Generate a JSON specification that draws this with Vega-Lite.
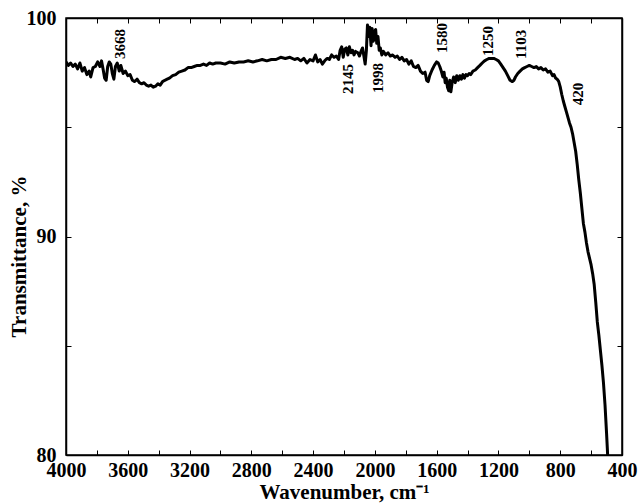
{
  "$schema": "https://vega.github.io/schema/vega-lite/v6.json",
  "autosize": "none",
  "width": 556,
  "height": 437,
  "padding": {"left": 66, "top": 18, "right": 16, "bottom": 49},
  "background": "white",
  "config": {
    "view": {"stroke": "black", "strokeWidth": 1.5},
    "font": "Liberation Serif",
    "axis": {
      "domainColor": "black",
      "domainWidth": 1.5,
      "tickColor": "black",
      "tickWidth": 1,
      "tickSize": -5,
      "grid": false,
      "labelFlush": false,
      "labelOverlap": false,
      "labelFont": "Liberation Serif",
      "labelFontWeight": "bold",
      "labelFontSize": 20,
      "labelColor": "black",
      "titleFont": "Liberation Serif",
      "titleFontWeight": "bold",
      "titleFontSize": 21,
      "titleColor": "black"
    }
  },
  "datasets": {
    "spectrum": [
      {"wn": 4000, "t": 97.99}, {"wn": 3985, "t": 97.83}, {"wn": 3970, "t": 97.94}, {"wn": 3955, "t": 97.78},
      {"wn": 3940, "t": 97.89}, {"wn": 3925, "t": 97.67}, {"wn": 3910, "t": 97.94}, {"wn": 3895, "t": 97.57},
      {"wn": 3880, "t": 97.73}, {"wn": 3865, "t": 97.41}, {"wn": 3850, "t": 97.57}, {"wn": 3840, "t": 97.3},
      {"wn": 3825, "t": 97.73}, {"wn": 3810, "t": 97.78}, {"wn": 3795, "t": 97.99}, {"wn": 3780, "t": 97.78},
      {"wn": 3770, "t": 98.04}, {"wn": 3760, "t": 97.67}, {"wn": 3750, "t": 97.25}, {"wn": 3740, "t": 97.15},
      {"wn": 3730, "t": 97.78}, {"wn": 3720, "t": 97.99}, {"wn": 3710, "t": 97.89}, {"wn": 3700, "t": 97.46},
      {"wn": 3690, "t": 97.2}, {"wn": 3680, "t": 97.78}, {"wn": 3668, "t": 97.94}, {"wn": 3655, "t": 97.57},
      {"wn": 3645, "t": 97.83}, {"wn": 3630, "t": 97.46}, {"wn": 3615, "t": 97.57}, {"wn": 3600, "t": 97.36},
      {"wn": 3585, "t": 97.41}, {"wn": 3570, "t": 97.15}, {"wn": 3555, "t": 97.09}, {"wn": 3540, "t": 97.2},
      {"wn": 3525, "t": 97.04}, {"wn": 3510, "t": 96.99}, {"wn": 3495, "t": 97.04}, {"wn": 3480, "t": 96.93},
      {"wn": 3465, "t": 96.88}, {"wn": 3450, "t": 96.93}, {"wn": 3435, "t": 96.83}, {"wn": 3420, "t": 96.88},
      {"wn": 3405, "t": 96.99}, {"wn": 3390, "t": 96.93}, {"wn": 3375, "t": 97.09}, {"wn": 3360, "t": 97.15},
      {"wn": 3345, "t": 97.2}, {"wn": 3330, "t": 97.25}, {"wn": 3310, "t": 97.36}, {"wn": 3290, "t": 97.41},
      {"wn": 3270, "t": 97.52}, {"wn": 3250, "t": 97.57}, {"wn": 3230, "t": 97.62}, {"wn": 3210, "t": 97.73},
      {"wn": 3190, "t": 97.73}, {"wn": 3170, "t": 97.78}, {"wn": 3150, "t": 97.83}, {"wn": 3130, "t": 97.83},
      {"wn": 3110, "t": 97.89}, {"wn": 3090, "t": 97.83}, {"wn": 3070, "t": 97.94}, {"wn": 3050, "t": 97.89},
      {"wn": 3030, "t": 97.94}, {"wn": 3000, "t": 97.94}, {"wn": 2970, "t": 97.89}, {"wn": 2940, "t": 97.99},
      {"wn": 2910, "t": 97.94}, {"wn": 2880, "t": 97.99}, {"wn": 2850, "t": 97.99}, {"wn": 2820, "t": 98.04},
      {"wn": 2790, "t": 97.99}, {"wn": 2760, "t": 98.04}, {"wn": 2730, "t": 98.1}, {"wn": 2700, "t": 98.04},
      {"wn": 2670, "t": 98.1}, {"wn": 2640, "t": 98.1}, {"wn": 2610, "t": 98.2}, {"wn": 2580, "t": 98.15},
      {"wn": 2550, "t": 98.2}, {"wn": 2520, "t": 98.1}, {"wn": 2500, "t": 98.15}, {"wn": 2480, "t": 98.04},
      {"wn": 2460, "t": 98.15}, {"wn": 2440, "t": 97.94}, {"wn": 2420, "t": 98.1}, {"wn": 2400, "t": 98.04},
      {"wn": 2385, "t": 98.31}, {"wn": 2370, "t": 97.99}, {"wn": 2355, "t": 98.1}, {"wn": 2340, "t": 97.89},
      {"wn": 2325, "t": 98.04}, {"wn": 2310, "t": 98.15}, {"wn": 2295, "t": 98.1}, {"wn": 2280, "t": 98.31},
      {"wn": 2265, "t": 98.2}, {"wn": 2250, "t": 98.26}, {"wn": 2235, "t": 98.1}, {"wn": 2225, "t": 98.52},
      {"wn": 2215, "t": 98.68}, {"wn": 2205, "t": 98.2}, {"wn": 2195, "t": 98.57}, {"wn": 2185, "t": 98.63},
      {"wn": 2175, "t": 98.31}, {"wn": 2165, "t": 98.68}, {"wn": 2155, "t": 98.41}, {"wn": 2145, "t": 98.52},
      {"wn": 2135, "t": 98.31}, {"wn": 2125, "t": 98.47}, {"wn": 2110, "t": 98.41}, {"wn": 2100, "t": 98.26},
      {"wn": 2090, "t": 98.47}, {"wn": 2080, "t": 98.63}, {"wn": 2070, "t": 98.2}, {"wn": 2063, "t": 97.89},
      {"wn": 2055, "t": 98.52}, {"wn": 2048, "t": 99.68}, {"wn": 2040, "t": 99.15}, {"wn": 2033, "t": 99.58},
      {"wn": 2025, "t": 98.73}, {"wn": 2018, "t": 99.52}, {"wn": 2010, "t": 98.94}, {"wn": 2003, "t": 99.37},
      {"wn": 1995, "t": 99.47}, {"wn": 1988, "t": 98.84}, {"wn": 1980, "t": 99.15}, {"wn": 1972, "t": 98.52},
      {"wn": 1965, "t": 98.63}, {"wn": 1955, "t": 98.31}, {"wn": 1945, "t": 98.47}, {"wn": 1930, "t": 98.31},
      {"wn": 1915, "t": 98.41}, {"wn": 1900, "t": 98.26}, {"wn": 1885, "t": 98.31}, {"wn": 1870, "t": 98.2},
      {"wn": 1855, "t": 98.26}, {"wn": 1840, "t": 98.1}, {"wn": 1825, "t": 98.2}, {"wn": 1810, "t": 98.04},
      {"wn": 1795, "t": 98.1}, {"wn": 1780, "t": 97.89}, {"wn": 1765, "t": 98.04}, {"wn": 1750, "t": 97.78},
      {"wn": 1735, "t": 97.73}, {"wn": 1720, "t": 97.83}, {"wn": 1705, "t": 97.57}, {"wn": 1690, "t": 97.46},
      {"wn": 1675, "t": 97.52}, {"wn": 1665, "t": 97.15}, {"wn": 1655, "t": 97.09}, {"wn": 1645, "t": 97.36},
      {"wn": 1630, "t": 97.62}, {"wn": 1615, "t": 97.83}, {"wn": 1600, "t": 97.99}, {"wn": 1590, "t": 97.94},
      {"wn": 1580, "t": 97.78}, {"wn": 1570, "t": 97.57}, {"wn": 1560, "t": 97.3}, {"wn": 1552, "t": 97.52},
      {"wn": 1545, "t": 97.04}, {"wn": 1538, "t": 97.25}, {"wn": 1530, "t": 96.83}, {"wn": 1522, "t": 96.67},
      {"wn": 1515, "t": 97.15}, {"wn": 1508, "t": 96.62}, {"wn": 1500, "t": 97.04}, {"wn": 1490, "t": 97.3},
      {"wn": 1480, "t": 97.04}, {"wn": 1470, "t": 97.36}, {"wn": 1460, "t": 97.15}, {"wn": 1450, "t": 97.36},
      {"wn": 1440, "t": 97.2}, {"wn": 1430, "t": 97.41}, {"wn": 1420, "t": 97.25}, {"wn": 1410, "t": 97.41},
      {"wn": 1400, "t": 97.36}, {"wn": 1390, "t": 97.46}, {"wn": 1380, "t": 97.41}, {"wn": 1365, "t": 97.57},
      {"wn": 1350, "t": 97.62}, {"wn": 1335, "t": 97.73}, {"wn": 1320, "t": 97.83}, {"wn": 1305, "t": 97.94},
      {"wn": 1290, "t": 98.04}, {"wn": 1275, "t": 98.1}, {"wn": 1260, "t": 98.15}, {"wn": 1245, "t": 98.15},
      {"wn": 1230, "t": 98.15}, {"wn": 1215, "t": 98.1}, {"wn": 1200, "t": 98.04}, {"wn": 1185, "t": 97.89},
      {"wn": 1170, "t": 97.73}, {"wn": 1155, "t": 97.57}, {"wn": 1140, "t": 97.36}, {"wn": 1125, "t": 97.15},
      {"wn": 1110, "t": 97.09}, {"wn": 1100, "t": 97.15}, {"wn": 1090, "t": 97.3}, {"wn": 1075, "t": 97.46},
      {"wn": 1060, "t": 97.57}, {"wn": 1045, "t": 97.67}, {"wn": 1030, "t": 97.73}, {"wn": 1015, "t": 97.78},
      {"wn": 1000, "t": 97.83}, {"wn": 985, "t": 97.78}, {"wn": 970, "t": 97.73}, {"wn": 955, "t": 97.78},
      {"wn": 940, "t": 97.67}, {"wn": 925, "t": 97.73}, {"wn": 910, "t": 97.62}, {"wn": 895, "t": 97.67},
      {"wn": 880, "t": 97.52}, {"wn": 865, "t": 97.57}, {"wn": 850, "t": 97.36}, {"wn": 840, "t": 97.41},
      {"wn": 830, "t": 97.25}, {"wn": 820, "t": 97.2}, {"wn": 810, "t": 97.1}, {"wn": 800, "t": 96.85},
      {"wn": 790, "t": 96.5}, {"wn": 780, "t": 96.2}, {"wn": 770, "t": 95.95}, {"wn": 760, "t": 95.7},
      {"wn": 750, "t": 95.45}, {"wn": 740, "t": 95.2}, {"wn": 730, "t": 95.0}, {"wn": 720, "t": 94.7},
      {"wn": 710, "t": 94.3}, {"wn": 700, "t": 93.9}, {"wn": 690, "t": 93.3}, {"wn": 680, "t": 92.6},
      {"wn": 670, "t": 92.0}, {"wn": 660, "t": 91.3}, {"wn": 650, "t": 90.6}, {"wn": 640, "t": 90.2},
      {"wn": 630, "t": 89.7}, {"wn": 620, "t": 89.3}, {"wn": 610, "t": 89.0}, {"wn": 600, "t": 88.7},
      {"wn": 590, "t": 88.3}, {"wn": 580, "t": 87.8}, {"wn": 570, "t": 87.0}, {"wn": 560, "t": 86.1},
      {"wn": 550, "t": 85.5}, {"wn": 540, "t": 84.8}, {"wn": 530, "t": 84.1}, {"wn": 520, "t": 83.3},
      {"wn": 510, "t": 82.3}, {"wn": 500, "t": 81.0}, {"wn": 495, "t": 80.3}, {"wn": 493, "t": 80.0}
    ],
    "peaks": [
      {"label": "3668", "wn": 3650, "t": 98.81},
      {"label": "2145", "wn": 2174, "t": 97.21},
      {"label": "1998", "wn": 1983, "t": 97.25},
      {"label": "1580", "wn": 1565, "t": 99.08},
      {"label": "1250", "wn": 1268, "t": 98.95},
      {"label": "1103", "wn": 1054, "t": 98.79},
      {"label": "420", "wn": 685, "t": 96.52}
    ]
  },
  "layer": [
    {
      "data": {"name": "spectrum"},
      "mark": {"type": "line", "color": "black", "strokeWidth": 3, "clip": true, "strokeJoin": "round"},
      "encoding": {
        "x": {
          "field": "wn", "type": "quantitative",
          "scale": {"domain": [4000, 400], "nice": false, "zero": false},
          "axis": {
            "orient": "bottom",
            "values": [4000, 3800, 3600, 3400, 3200, 3000, 2800, 2600, 2400, 2200, 2000, 1800, 1600, 1400, 1200, 1000, 800, 600, 400],
            "labelExpr": "datum.value % 400 == 0 ? format(datum.value, 'd') : ''",
            "labelPadding": 10,
            "title": "Wavenumber, cm⁻¹",
            "titlePadding": 1
          }
        },
        "y": {
          "field": "t", "type": "quantitative",
          "scale": {"domain": [80, 100], "nice": false, "zero": false},
          "axis": {
            "orient": "left",
            "values": [80, 85, 90, 95, 100],
            "labelExpr": "datum.value % 10 == 0 ? format(datum.value, 'd') : ''",
            "labelPadding": 15,
            "title": "Transmittance, %",
            "titleX": -37,
            "titleY": 238
          }
        }
      }
    },
    {
      "data": {"name": "peaks"},
      "mark": {"type": "text", "angle": 270, "align": "center", "baseline": "middle", "font": "Liberation Serif", "fontWeight": "bold", "fontSize": 15, "color": "black"},
      "encoding": {
        "x": {
          "field": "wn", "type": "quantitative",
          "axis": {
            "orient": "top",
            "values": [4000, 3800, 3600, 3400, 3200, 3000, 2800, 2600, 2400, 2200, 2000, 1800, 1600, 1400, 1200, 1000, 800, 600, 400],
            "labels": false, "title": null
          }
        },
        "y": {
          "field": "t", "type": "quantitative",
          "axis": {
            "orient": "right",
            "values": [80, 85, 90, 95, 100],
            "labels": false, "title": null
          }
        },
        "text": {"field": "label"}
      }
    }
  ],
  "resolve": {"axis": {"x": "independent", "y": "independent"}}
}
